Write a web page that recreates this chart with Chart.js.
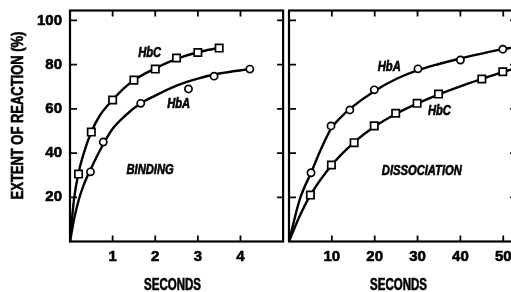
<!DOCTYPE html>
<html><head><meta charset="utf-8">
<script src="https://cdn.jsdelivr.net/npm/chart.js@4.4.1/dist/chart.umd.min.js"></script>
<style>
html,body{margin:0;padding:0;background:#fff;width:511px;height:292px;overflow:hidden;position:relative;}
#wrapL{position:absolute;left:0;top:0;width:290px;height:292px;}
#wrapR{position:absolute;left:280px;top:0;width:243px;height:292px;}
canvas{display:block;}
</style></head><body>
<div id="wrapL"><canvas id="cL" width="290" height="292"></canvas></div>
<div id="wrapR"><canvas id="cR" width="243" height="292"></canvas></div>
<script>
// ---- Data ----
const extentTicks = [20, 40, 60, 80, 100];
const bindSecTicks = [1, 2, 3, 4];
const dissSecTicks = [10, 20, 30, 40, 50];

// BINDING panel (seconds)
const bindHbC_t = [0.2, 0.5, 1.0, 1.5, 2.0, 2.5, 3.0, 3.5];
const bindHbC_v = [30.5, 49.5, 64, 73, 78, 83, 85.5, 87.5];
const bindHbA_t = [0.48, 0.78, 1.66, 2.78, 3.38, 4.22];
const bindHbA_v = [31.5, 45, 62.5, 69, 74.8, 78];
const bindHbCFit_t = [0, 0.09, 0.2, 0.3, 0.5, 0.7, 1.0, 1.25, 1.5, 2.0, 2.5, 3.0, 3.5];
const bindHbCFit_v = [0, 18.5, 31, 38.5, 49.5, 57, 64, 69, 73, 78.3, 82.6, 85.6, 87.6];
const bindHbAFit_t = [0, 0.1, 0.2, 0.32, 0.48, 0.78, 1.0, 1.3, 1.66, 2.0, 2.5, 3.0, 3.5, 4.22];
const bindHbAFit_v = [0, 10.5, 18.5, 25.5, 32.5, 44, 51, 57, 62.5, 66, 70.5, 73.7, 76, 78];

// DISSOCIATION panel (seconds)
const dissHbA_t = [5.14, 9.8, 14.2, 19.9, 30.1, 40.0, 49.9];
const dissHbA_v = [31.1, 52.3, 59.5, 68.6, 78.1, 82.1, 87.0];
const dissHbC_t = [5.0, 9.9, 15.2, 19.9, 24.9, 29.9, 34.9, 45.0, 49.9];
const dissHbC_v = [21.0, 34.6, 44.7, 52.3, 58.0, 62.5, 66.7, 73.5, 76.8];
const dissHbAFit_t = [0, 2.5, 5.14, 7.5, 9.8, 12, 14.2, 19.9, 25, 30.1, 35, 40, 45, 50, 53];
const dissHbAFit_v = [0, 19, 31.1, 42, 51, 56, 60, 68, 73.5, 77.5, 80.3, 82.8, 85, 87, 88];
const dissHbCFit_t = [0, 2.5, 5, 10, 15, 20, 25, 30, 35, 40, 45, 50, 53];
const dissHbCFit_v = [0, 11.5, 21, 34.6, 44.5, 52, 57.8, 62.5, 66.6, 70.2, 73.5, 76.7, 78.5];

// Panel annotations (in data units)
const bindNotes = [
  {text: 'HbC', x: 1.87, y: 85.5},
  {text: 'HbA', x: 2.55, y: 62.3},
  {text: 'BINDING', x: 1.88, y: 32.4}
];
const dissNotes = [
  {text: 'HbA', x: 23.4, y: 79.2},
  {text: 'HbC', x: 35.1, y: 59},
  {text: 'DISSOCIATION', x: 31, y: 32.1}
];
const xTitle = 'SECONDS';
const yTitle = 'EXTENT OF REACTION (%)';

// ---- Rendering ----
const FONT = "'Liberation Sans','Arimo','DejaVu Sans',sans-serif";
const pts = (xs, ys) => xs.map((x, i) => ({x: x, y: ys[i]}));
const setTicks = arr => (s => { s.ticks = arr.map(v => ({value: v})); });

function condensed(ctx, text, x, y, font, sx, rot) {
  ctx.save();
  ctx.translate(x, y);
  if (rot) ctx.rotate(rot);
  ctx.scale(sx, 1);
  ctx.font = font;
  ctx.textAlign = 'center';
  ctx.textBaseline = 'middle';
  ctx.lineWidth = 0.6;
  ctx.strokeStyle = '#000';
  ctx.fillText(text, 0, 0);
  ctx.strokeText(text, 0, 0);
  ctx.restore();
}

const framePlugin = {
  id: 'frame',
  afterDraw(chart, args, opts) {
    const {ctx, chartArea: a} = chart;
    const x = chart.scales.x, y = chart.scales.y;
    ctx.save();
    ctx.strokeStyle = '#000';
    ctx.lineWidth = 2.2;
    ctx.strokeRect(a.left, a.top, a.right - a.left, a.bottom - a.top);
    const L = 6;
    ctx.lineWidth = 1.8;
    ctx.beginPath();
    x.ticks.forEach(t => {
      const px = x.getPixelForValue(t.value);
      ctx.moveTo(px, a.bottom); ctx.lineTo(px, a.bottom - L);
      ctx.moveTo(px, a.top); ctx.lineTo(px, a.top + L);
    });
    opts.yTicks.forEach(v => {
      const py = y.getPixelForValue(v);
      if (opts.leftTicks) { ctx.moveTo(a.left, py); ctx.lineTo(a.left + L + 1, py); }
      if (opts.rightTicks) { ctx.moveTo(a.right, py); ctx.lineTo(a.right - L, py); }
    });
    ctx.stroke();
    ctx.fillStyle = '#000';
    opts.notes.forEach(n => condensed(ctx, n.text, x.getPixelForValue(n.x), y.getPixelForValue(n.y) + 0.5, 'italic bold 14px ' + FONT, 0.8, 0));
    condensed(ctx, xTitle, (a.left + a.right) / 2 - 4, 285.5, 'bold 16px ' + FONT, 0.72, 0);
    if (opts.showYTitle) {
      condensed(ctx, yTitle, 18.5, 115.5, 'bold 16px ' + FONT, 0.81, -Math.PI / 2);
    }
    ctx.restore();
  }
};

const markerStyle = {showLine: false, borderColor: '#000', backgroundColor: '#fff', pointBorderWidth: 1.7, pointBackgroundColor: '#fff', pointBorderColor: '#000'};
const fitStyle = {showLine: true, pointRadius: 0, borderColor: '#000', borderWidth: 2.4, cubicInterpolationMode: 'monotone', fill: false};
const tickFont = {family: FONT, size: 15, weight: 'bold'};

function makeChart(canvas, cfg) {
  return new Chart(canvas, {
    type: 'scatter',
    data: {datasets: [
      Object.assign({label: cfg.m1.label, data: cfg.m1.data, pointStyle: cfg.m1.style, pointRadius: cfg.m1.r}, markerStyle),
      Object.assign({label: cfg.m2.label, data: cfg.m2.data, pointStyle: cfg.m2.style, pointRadius: cfg.m2.r}, markerStyle),
      Object.assign({label: cfg.m1.label + ' fit', data: cfg.f1}, fitStyle),
      Object.assign({label: cfg.m2.label + ' fit', data: cfg.f2}, fitStyle)
    ]},
    options: {
      responsive: false, animation: false, devicePixelRatio: 1,
      layout: {padding: {top: 10.5, right: cfg.padRight, left: 0, bottom: 0}},
      plugins: {legend: {display: false}, tooltip: {enabled: false}, frame: cfg.frame},
      scales: {
        x: {
          type: 'linear', min: 0, max: cfg.xMax,
          afterBuildTicks: setTicks(cfg.xTicks),
          afterFit: s => { s.height = 50.5; s.paddingLeft = 0; s.paddingRight = 0; },
          grid: {display: false, drawTicks: false}, border: {display: false},
          ticks: {font: tickFont, color: '#000', padding: 6, maxRotation: 0, textStrokeColor: '#000', textStrokeWidth: 0.6}
        },
        y: {
          type: 'linear', min: 0, max: 104.5,
          afterBuildTicks: setTicks(extentTicks),
          afterFit: s => { s.width = cfg.yWidth; s.paddingTop = 0; s.paddingBottom = 0; },
          grid: {display: false, drawTicks: false}, border: {display: false},
          ticks: {display: cfg.yLabels, font: tickFont, color: '#000', padding: 8, textStrokeColor: '#000', textStrokeWidth: 0.6}
        }
      }
    },
    plugins: [framePlugin]
  });
}

makeChart(document.getElementById('cL'), {
  m1: {label: 'HbC', data: pts(bindHbC_t, bindHbC_v), style: 'rect', r: 5.2},
  m2: {label: 'HbA', data: pts(bindHbA_t, bindHbA_v), style: 'circle', r: 3.6},
  f1: pts(bindHbCFit_t, bindHbCFit_v),
  f2: pts(bindHbAFit_t, bindHbAFit_v),
  xMax: 5, xTicks: bindSecTicks, padRight: 1, yWidth: 70, yLabels: true,
  frame: {notes: bindNotes, yTicks: extentTicks, leftTicks: true, rightTicks: true, showYTitle: true}
});

makeChart(document.getElementById('cR'), {
  m1: {label: 'HbA', data: pts(dissHbA_t, dissHbA_v), style: 'circle', r: 3.6},
  m2: {label: 'HbC', data: pts(dissHbC_t, dissHbC_v), style: 'rect', r: 5.2},
  f1: pts(dissHbAFit_t, dissHbAFit_v),
  f2: pts(dissHbCFit_t, dissHbCFit_v),
  xMax: 53, xTicks: dissSecTicks, padRight: 0, yWidth: 9, yLabels: false,
  frame: {notes: dissNotes, yTicks: extentTicks, leftTicks: true, rightTicks: true, showYTitle: false}
});
</script>
</body></html>
